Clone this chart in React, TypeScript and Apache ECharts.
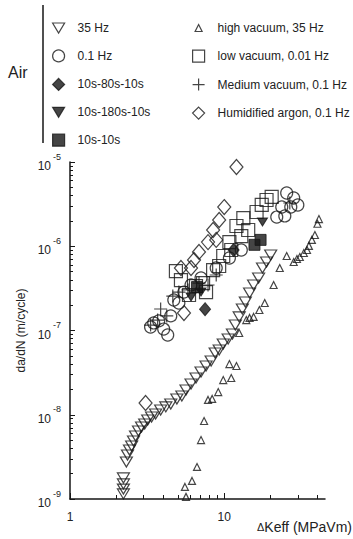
import React, { useEffect, useRef } from "react";
import * as echarts from "echarts";

// ---- data (ΔKeff in MPa√m, da/dN in m/cycle) ----
const hz35: number[][] = [
  [2.22, 1.15e-9], [2.22, 1.31e-9], [2.22, 1.51e-9], [2.22, 1.78e-9], [2.32, 2.75e-9], [2.36, 3.33e-9],
  [2.43, 3.82e-9], [2.51, 4.26e-9], [2.58, 4.88e-9], [2.66, 5.6e-9], [2.78, 6.41e-9], [2.91, 7.16e-9],
  [3.05, 7.77e-9], [3.19, 8.66e-9], [3.38, 9.4e-9], [3.59, 1.02e-8], [3.87, 1.14e-8], [4.18, 1.24e-8],
  [4.5, 1.34e-8], [4.93, 1.54e-8], [5.31, 1.67e-8], [5.65, 1.97e-8], [6.09, 2.32e-8], [6.56, 2.73e-8],
  [7.07, 3.21e-8], [7.62, 3.79e-8], [8.22, 4.35e-8], [8.73, 5.41e-8], [9.27, 5.87e-8], [9.85, 6.92e-8],
  [10.6, 7.93e-8], [11.3, 9.08e-8], [11.8, 1.16e-7], [12.5, 1.45e-7], [13.1, 1.8e-7], [13.7, 2.18e-7],
  [14.6, 2.79e-7], [15.5, 3.47e-7], [16.7, 4.2e-7], [17.7, 5.52e-7], [18.8, 6.5e-7], [20.0, 7.87e-7],
];
const hz01: number[][] = [
  [3.33, 1.1e-7], [3.49, 1.23e-7], [3.76, 1.3e-7], [4.05, 1.04e-7], [4.3, 8.85e-8], [4.5, 1.49e-7],
  [4.71, 2.3e-7], [5.08, 2.12e-7], [5.48, 2.86e-7], [6.09, 3.47e-7], [7.07, 4.2e-7], [8.87, 5.52e-7],
  [10.8, 7.26e-7], [12.9, 9.02e-7], [21.9, 2.22e-6], [24.7, 2.29e-6], [23.6, 2.92e-6], [27.0, 2.92e-6],
  [25.4, 4.29e-6], [28.2, 3.74e-6], [30.0, 3.09e-6],
];
const s80: number[][] = [[7.51, 1.79e-7], [11.5, 9.02e-7]];
const s180: number[][] = [[17.7, 1.94e-6], [7.07, 2.86e-7], [6.09, 2.5e-7]];
const s10: number[][] = [[15.7, 1.04e-6], [17.2, 1.19e-6], [6.66, 3.28e-7]];
const highVac: number[][] = [
  [5.65, 1.06e-9], [5.56, 1.39e-9], [6.18, 1.64e-9], [6.66, 2.4e-9], [7.07, 5.01e-9], [7.4, 8.43e-9],
  [7.85, 1.5e-8], [8.35, 1.54e-8], [9.14, 1.86e-8], [9.85, 2.58e-8], [11.1, 2.73e-8], [10.8, 4.0e-8],
  [12.0, 3.79e-8], [12.5, 9.34e-8], [13.9, 1.33e-7], [14.6, 1.41e-7], [15.5, 1.45e-7], [16.9, 1.75e-7],
  [18.3, 2.12e-7], [20.9, 3.47e-7], [22.9, 5.52e-7], [25.4, 7.66e-7], [28.2, 6.5e-7], [29.6, 7.06e-7],
  [30.9, 7.45e-7], [32.8, 8.31e-7], [34.4, 9.02e-7], [35.4, 1.01e-6], [37.0, 1.19e-6], [38.7, 1.36e-6],
  [40.2, 1.85e-6], [41.1, 2.1e-6],
];
const lowVac: number[][] = [
  [4.86, 5.08e-7], [5.24, 3.97e-7], [5.91, 2.64e-7], [6.56, 3.37e-7], [7.29, 3.66e-7], [7.62, 2.86e-7],
  [8.47, 5.22e-7], [9.27, 5.83e-7], [9.85, 7.66e-7], [10.8, 1.12e-6], [11.1, 9.02e-7], [12.0, 1.74e-6],
  [12.9, 1.32e-6], [13.3, 2.16e-6], [14.3, 1.56e-6], [16.2, 2.55e-6], [17.5, 3.09e-6], [18.8, 3.54e-6],
  [20.3, 3.85e-6],
];
const medVac: number[][] = [
  [3.33, 1.16e-7], [3.7, 1.33e-7], [3.87, 1.8e-7], [4.24, 1.49e-7], [4.64, 2.56e-7], [5.08, 2.86e-7],
  [5.82, 3.03e-7], [6.86, 3.66e-7], [7.85, 3.47e-7], [8.87, 4.56e-7], [26.6, 3.26e-6],
];
const argon: number[][] = [
  [12.0, 8.73e-6], [10.0, 2.92e-6], [9.27, 2.05e-6], [8.47, 1.56e-6], [8.87, 1.19e-6], [7.85, 1.12e-6],
  [6.86, 8.56e-7], [6.37, 6.87e-7], [6.09, 5.52e-7], [5.24, 5.52e-7], [5.48, 1.61e-7], [3.09, 1.38e-8],
];

const xMajorTicks = [1, 10];
const xMinorTicks = [2, 3, 4, 5, 6, 7, 8, 9, 20, 30, 40];
const yMajorTicks = [1e-9, 1e-8, 1e-7, 1e-6, 1e-5];
const yMinorTicks: number[] = [];
[1e-9, 1e-8, 1e-7, 1e-6].forEach((d) => [2, 3, 4, 5, 6, 7, 8, 9].forEach((m) => yMinorTicks.push(+(m * d).toPrecision(3))));

const legendLeft = ["35 Hz", "0.1 Hz", "10s-80s-10s", "10s-180s-10s", "10s-10s"];
const legendRight = ["high vacuum, 35 Hz", "low vacuum, 0.01 Hz", "Medium vacuum, 0.1 Hz", "Humidified argon, 0.1 Hz"];

const INK = "#161616";
const FONT = "'Liberation Sans', Arial, sans-serif";
const DOWN_TRI = "path://M0,0 L12,0 L6,10 Z";
const CROSS = "path://M6,0 L6,12 M0,6 L12,6";
const HOLLOW = { color: "rgba(255,255,255,0)", borderColor: INK, borderWidth: 1.2 };
const FILLED = { color: INK, borderColor: INK, borderWidth: 1 };

export default function App() {
  const ref = useRef<HTMLDivElement>(null);
  useEffect(() => {
    if (!ref.current) return;
    const chart = echarts.init(ref.current, undefined, { renderer: "svg" });
    const sc = (name: string, data: number[][], symbol: string, size: any, style: any) => ({
      type: "scatter", name, data, symbol, symbolSize: size, itemStyle: style,
      xAxisIndex: 0, yAxisIndex: 0, emphasis: { disabled: true },
    });
    const legendCommon = {
      orient: "vertical", itemWidth: 12, itemHeight: 12, itemGap: 15.3, padding: 5,
      symbolKeepAspect: true,
      textStyle: { fontFamily: FONT, fontSize: 12, color: "#222", padding: [0, 0, 0, 8] }, selectedMode: false,
      itemStyle: { borderWidth: 1.2 },
    };
    const axisBase = {
      type: "log", logBase: 10, splitLine: { show: false }, axisLine: { onZero: false },
    };
    chart.setOption({
      animation: false,
      backgroundColor: "#fff",
      textStyle: { fontFamily: FONT },
      grid: { left: 70, top: 162, right: 28, bottom: 40 },
      legend: [
        { ...legendCommon, data: legendLeft, left: 47, top: 17 },
        {
          ...legendCommon, data: [legendRight[0]], left: 189.5, top: 17, itemWidth: 7, itemHeight: 7,
          textStyle: { ...legendCommon.textStyle, padding: [0, 0, 0, 10.5] },
        },
        { ...legendCommon, data: legendRight.slice(1), left: 187, top: 44.5 },
      ],
      xAxis: [
        {
          ...axisBase, min: 1, max: 45, position: "bottom",
          axisLine: { show: true, onZero: false, lineStyle: { color: INK, width: 1.5 } },
          axisTick: { show: true, inside: true, length: 6, customValues: xMajorTicks, lineStyle: { color: INK } },
          axisLabel: { customValues: xMajorTicks, margin: 12, fontSize: 12, color: "#222", fontFamily: FONT },
        },
        {
          ...axisBase, min: 1, max: 45, position: "bottom",
          axisLine: { show: false, onZero: false },
          axisTick: { show: true, inside: true, length: 4, customValues: xMinorTicks, lineStyle: { color: INK } },
          axisLabel: { show: false },
        },
      ],
      yAxis: [
        {
          ...axisBase, min: 1e-9, max: 1e-5, position: "left",
          name: "da/dN (m/cycle)", nameLocation: "middle", nameGap: 40,
          nameTextStyle: { fontSize: 12, color: "#222", fontFamily: FONT },
          axisLine: { show: true, onZero: false, lineStyle: { color: INK, width: 1.5 } },
          axisTick: { show: true, inside: true, length: 5, customValues: yMajorTicks, lineStyle: { color: INK } },
          axisLabel: {
            customValues: yMajorTicks, margin: 9, color: "#222",
            formatter: (v: number) => `{b|10}{s|${Math.round(Math.log10(v))}}`,
            rich: {
              b: { fontSize: 12, fontFamily: FONT, color: "#222", verticalAlign: "bottom", lineHeight: 20, padding: [8, 0, 0, 0] },
              s: { fontSize: 9, fontFamily: FONT, color: "#222", verticalAlign: "top", lineHeight: 20, padding: [0, 0, 8, 2] },
            },
          },
        },
        {
          ...axisBase, min: 1e-9, max: 1e-5, position: "left",
          axisLine: { show: false, onZero: false },
          axisTick: { show: true, inside: true, length: 3, customValues: yMinorTicks, lineStyle: { color: INK } },
          axisLabel: { show: false },
        },
      ],
      graphic: [
        { type: "line", shape: { x1: 43, y1: 5, x2: 43, y2: 143 }, style: { stroke: INK, lineWidth: 1.5 } },
        { type: "text", left: 8, top: 64, style: { text: "Air", fontSize: 16, fontFamily: FONT, fill: "#222" } },
        {
          type: "text", right: 1, top: 520,
          style: {
            text: "{d|\u0394}{t|Keff (MPaVm)}",
            rich: {
              d: { fontSize: 11, fontFamily: FONT, fill: "#222" },
              t: { fontSize: 14, fontFamily: FONT, fill: "#222" },
            },
          },
        },
      ],
      series: [
        sc(legendRight[0], highVac, "triangle", 7, HOLLOW),
        sc(legendLeft[0], hz35, DOWN_TRI, [12, 10], HOLLOW),
        sc(legendLeft[1], hz01, "circle", 12, HOLLOW),
        sc(legendRight[1], lowVac, "rect", 13, HOLLOW),
        sc(legendRight[2], medVac, CROSS, 13, HOLLOW),
        sc(legendRight[3], argon, "diamond", [13, 15], HOLLOW),
        sc(legendLeft[2], s80, "diamond", [11, 13], FILLED),
        sc(legendLeft[3], s180, DOWN_TRI, [10, 8], FILLED),
        sc(legendLeft[4], s10, "rect", 11, FILLED),
      ],
    });
    return () => chart.dispose();
  }, []);
  return <div ref={ref} style={{ width: 353, height: 539, position: "absolute", left: 0, top: 0 }} />;
}
